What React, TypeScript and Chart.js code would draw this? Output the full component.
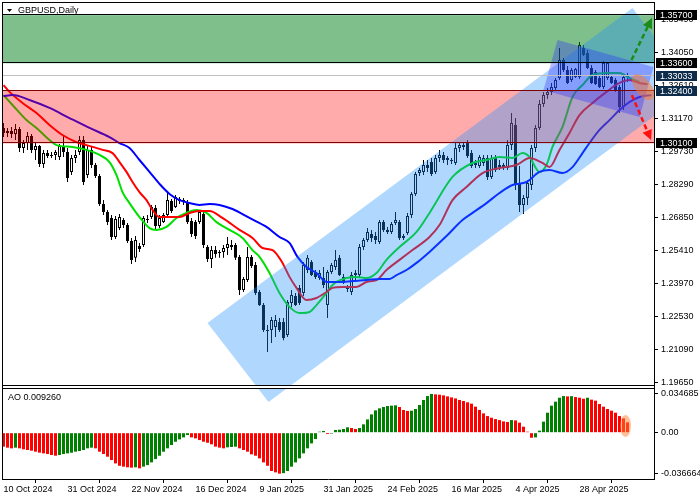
import React, { useEffect, useRef } from "react";
import { Chart, registerables } from "chart.js";

Chart.register(...registerables);

// ---------- data ----------
const dateLabels = ["10 Oct 2024", "31 Oct 2024", "22 Nov 2024", "16 Dec 2024", "9 Jan 2025", "31 Jan 2025", "24 Feb 2025", "16 Mar 2025", "4 Apr 2025", "28 Apr 2025"];
const dateTickIdx = [0, 16, 32, 48, 64, 80, 96, 112, 128, 144];
const priceTicks = [1.1965, 1.2109, 1.2253, 1.2397, 1.2541, 1.2685, 1.2829, 1.2973, 1.3117, 1.3261, 1.3405, 1.3549];
const aoTicks = [0.034685, 0, -0.036664];
const aoTickLabels = ["0.034685", "0.00", "-0.036664"];

const opens = [
  1.3078, 1.3056, 1.3064, 1.3051, 1.3073, 1.2990, 1.3012, 1.3043, 1.2982, 1.2999,
  1.2920, 1.2968, 1.2955, 1.2960, 1.2951, 1.2999, 1.2973, 1.2886, 1.2947, 1.2973,
  1.3025, 1.2872, 1.2982, 1.2916, 1.2868, 1.2746, 1.2711, 1.2685, 1.2602, 1.2641,
  1.2676, 1.2654, 1.2585, 1.2511, 1.2563, 1.2567, 1.2681, 1.2689, 1.2729, 1.2650,
  1.2667, 1.2698, 1.2759, 1.2733, 1.2768, 1.2759, 1.2750, 1.2672, 1.2667, 1.2667,
  1.2702, 1.2558, 1.2506, 1.2545, 1.2532, 1.2537, 1.2554, 1.2567, 1.2567, 1.2515,
  1.2371, 1.2414, 1.2515, 1.2480, 1.2362, 1.2305, 1.2196, 1.2196, 1.2209, 1.2231,
  1.2231, 1.2174, 1.2314, 1.2345, 1.2380, 1.2358, 1.2458, 1.2493, 1.2449, 1.2423,
  1.2423, 1.2305, 1.2449, 1.2471, 1.2511, 1.2428, 1.2380, 1.2362, 1.2436, 1.2436,
  1.2558, 1.2589, 1.2615, 1.2606, 1.2580, 1.2667, 1.2633, 1.2624, 1.2663, 1.2667,
  1.2606, 1.2619, 1.2698, 1.2790, 1.2881, 1.2886, 1.2916, 1.2929, 1.2886, 1.2947,
  1.2960, 1.2938, 1.2938, 1.2925, 1.2990, 1.2995, 1.3012, 1.2968, 1.2925, 1.2912,
  1.2925, 1.2947, 1.2864, 1.2947, 1.2916, 1.2916, 1.2903, 1.3003, 1.3091, 1.2838,
  1.2742, 1.2772, 1.2829, 1.2990, 1.3078, 1.3182, 1.3221, 1.3235, 1.3252, 1.3296,
  1.3374, 1.3331, 1.3287, 1.3300, 1.3300, 1.3427, 1.3405, 1.3339, 1.3322, 1.3296,
  1.3256, 1.3296, 1.3300, 1.3287, 1.3256, 1.3169, 1.3300,
];
const highs = [
  1.3099, 1.3078, 1.3082, 1.3095, 1.3082, 1.3025, 1.3060, 1.3051, 1.3012, 1.3003,
  1.2982, 1.2982, 1.2973, 1.2982, 1.3008, 1.3047, 1.2990, 1.2960, 1.2982, 1.3043,
  1.3043, 1.3003, 1.2999, 1.2925, 1.2877, 1.2763, 1.2720, 1.2698, 1.2694, 1.2702,
  1.2685, 1.2663, 1.2598, 1.2606, 1.2576, 1.2694, 1.2698, 1.2742, 1.2742, 1.2698,
  1.2707, 1.2798, 1.2768, 1.2785, 1.2777, 1.2772, 1.2763, 1.2685, 1.2676, 1.2720,
  1.2711, 1.2567, 1.2563, 1.2563, 1.2545, 1.2567, 1.2602, 1.2589, 1.2576, 1.2524,
  1.2428, 1.2558, 1.2524, 1.2493, 1.2371, 1.2314, 1.2218, 1.2253, 1.2262, 1.2249,
  1.2249, 1.2327, 1.2371, 1.2358, 1.2393, 1.2493, 1.2524, 1.2502, 1.2458, 1.2458,
  1.2471, 1.2458, 1.2489, 1.2545, 1.2524, 1.2441, 1.2393, 1.2449, 1.2458, 1.2571,
  1.2598, 1.2641, 1.2633, 1.2624, 1.2676, 1.2676, 1.2646, 1.2667, 1.2711, 1.2676,
  1.2615, 1.2707, 1.2798, 1.2886, 1.2903, 1.2938, 1.2938, 1.2947, 1.2960, 1.2982,
  1.2973, 1.2955, 1.2947, 1.3012, 1.3012, 1.3012, 1.3025, 1.2982, 1.2938, 1.2960,
  1.2960, 1.2960, 1.2960, 1.2960, 1.2938, 1.2925, 1.3025, 1.3143, 1.3121, 1.2912,
  1.2785, 1.2851, 1.3003, 1.3091, 1.3200, 1.3235, 1.3252, 1.3274, 1.3296, 1.3427,
  1.3383, 1.3348, 1.3339, 1.3339, 1.3453, 1.3440, 1.3418, 1.3352, 1.3331, 1.3304,
  1.3370, 1.3366, 1.3309, 1.3296, 1.3265, 1.3313, 1.3317,
];
const lows = [
  1.3038, 1.3038, 1.3034, 1.3025, 1.2973, 1.2968, 1.2982, 1.2968, 1.2938, 1.2907,
  1.2903, 1.2947, 1.2947, 1.2938, 1.2938, 1.2951, 1.2842, 1.2872, 1.2925, 1.2960,
  1.2829, 1.2859, 1.2903, 1.2859, 1.2737, 1.2698, 1.2654, 1.2589, 1.2593, 1.2633,
  1.2641, 1.2576, 1.2484, 1.2493, 1.2537, 1.2558, 1.2663, 1.2681, 1.2637, 1.2641,
  1.2663, 1.2694, 1.2707, 1.2729, 1.2746, 1.2742, 1.2659, 1.2602, 1.2593, 1.2659,
  1.2554, 1.2493, 1.2467, 1.2511, 1.2511, 1.2511, 1.2524, 1.2545, 1.2502, 1.2349,
  1.2362, 1.2406, 1.2467, 1.2349, 1.2301, 1.2187, 1.2100, 1.2139, 1.2166, 1.2187,
  1.2152, 1.2166, 1.2297, 1.2301, 1.2305, 1.2345, 1.2445, 1.2432, 1.2419, 1.2414,
  1.2380, 1.2249, 1.2441, 1.2458, 1.2432, 1.2397, 1.2362, 1.2349, 1.2414, 1.2428,
  1.2545, 1.2580, 1.2580, 1.2571, 1.2571, 1.2624, 1.2615, 1.2615, 1.2654, 1.2589,
  1.2589, 1.2611, 1.2685, 1.2781, 1.2868, 1.2872, 1.2886, 1.2868, 1.2877, 1.2929,
  1.2925, 1.2916, 1.2920, 1.2916, 1.2973, 1.2982, 1.2947, 1.2903, 1.2903, 1.2903,
  1.2912, 1.2851, 1.2855, 1.2886, 1.2894, 1.2894, 1.2894, 1.2982, 1.2807, 1.2711,
  1.2702, 1.2742, 1.2807, 1.2973, 1.3069, 1.3169, 1.3204, 1.3221, 1.3243, 1.3287,
  1.3322, 1.3269, 1.3278, 1.3296, 1.3291, 1.3392, 1.3335, 1.3269, 1.3265, 1.3252,
  1.3248, 1.3287, 1.3269, 1.3235, 1.3143, 1.3156, 1.3278,
];
const closes = [
  1.3056, 1.3064, 1.3051, 1.3073, 1.2990, 1.3012, 1.3043, 1.2982, 1.2999, 1.2920,
  1.2968, 1.2955, 1.2960, 1.2973, 1.2999, 1.2973, 1.2859, 1.2947, 1.2960, 1.3025,
  1.2842, 1.2982, 1.2916, 1.2868, 1.2746, 1.2711, 1.2667, 1.2602, 1.2681, 1.2689,
  1.2654, 1.2585, 1.2502, 1.2589, 1.2550, 1.2685, 1.2676, 1.2733, 1.2650, 1.2685,
  1.2698, 1.2763, 1.2715, 1.2777, 1.2759, 1.2763, 1.2667, 1.2615, 1.2606, 1.2711,
  1.2567, 1.2506, 1.2545, 1.2528, 1.2537, 1.2554, 1.2571, 1.2558, 1.2511, 1.2371,
  1.2419, 1.2515, 1.2475, 1.2358, 1.2305, 1.2196, 1.2192, 1.2240, 1.2240, 1.2196,
  1.2161, 1.2318, 1.2349, 1.2305, 1.2314, 1.2480, 1.2511, 1.2436, 1.2428, 1.2445,
  1.2393, 1.2449, 1.2480, 1.2502, 1.2436, 1.2401, 1.2375, 1.2436, 1.2445, 1.2558,
  1.2589, 1.2624, 1.2598, 1.2589, 1.2667, 1.2633, 1.2624, 1.2659, 1.2676, 1.2598,
  1.2598, 1.2694, 1.2790, 1.2877, 1.2894, 1.2916, 1.2903, 1.2877, 1.2947, 1.2960,
  1.2938, 1.2947, 1.2934, 1.2990, 1.3003, 1.3003, 1.2955, 1.2912, 1.2916, 1.2951,
  1.2947, 1.2864, 1.2947, 1.2894, 1.2907, 1.2903, 1.3003, 1.3099, 1.2829, 1.2742,
  1.2772, 1.2838, 1.2990, 1.3078, 1.3182, 1.3221, 1.3235, 1.3256, 1.3287, 1.3374,
  1.3331, 1.3274, 1.3331, 1.3335, 1.3440, 1.3396, 1.3339, 1.3274, 1.3269, 1.3256,
  1.3361, 1.3361, 1.3274, 1.3239, 1.3169, 1.3300, 1.33033,
];

// Alligator lines (bar index, price)
const jawIdx = [0, 2.25, 6.5, 11.5, 16.5, 21.5, 26.5, 29, 31.5, 34, 36.5, 39, 41.5, 44, 46.5, 49, 51.5, 54, 57.25, 61.5, 65.75, 69, 71.5, 73.5, 75.75, 78.25, 80.75, 84, 87.25, 90.75, 94, 96.5, 98.25, 100.75, 103.25, 106.5, 110.75, 114.75, 117.25, 120.75, 124, 127.25, 130.75, 134, 136.5, 139.75, 142.25, 144.75, 146.5, 149, 151.5, 154, 156.5, 159, 162];
const jawVal = [1.3217, 1.3221, 1.3200, 1.3165, 1.3121, 1.3078, 1.3038, 1.3012, 1.2990, 1.2938, 1.2886, 1.2834, 1.2790, 1.2763, 1.2750, 1.2742, 1.2746, 1.2742, 1.2724, 1.2685, 1.2646, 1.2602, 1.2576, 1.2515, 1.2471, 1.2445, 1.2406, 1.2406, 1.2410, 1.2414, 1.2419, 1.2419, 1.2436, 1.2458, 1.2489, 1.2537, 1.2606, 1.2676, 1.2707, 1.2750, 1.2794, 1.2829, 1.2842, 1.2886, 1.2894, 1.2881, 1.2907, 1.2968, 1.3012, 1.3069, 1.3112, 1.3156, 1.3191, 1.3213, 1.3221];
const teethIdx = [0, 1.5, 4.75, 8.25, 11.5, 14.75, 18.25, 20.75, 24.75, 27.25, 29, 30.75, 32.25, 34, 35.75, 37.25, 39, 40.75, 44, 46.5, 49, 51.5, 54.75, 59, 62.25, 64.75, 67.25, 69.75, 71.5, 73.25, 75.75, 78.25, 80.75, 82.25, 84.75, 88.25, 90.75, 93.25, 95.75, 99, 102.25, 106.5, 109, 112.25, 115.75, 119.75, 124, 128.25, 131.5, 134.75, 136.5, 139, 141.5, 144, 147.25, 150.75, 154, 156.5, 159, 161];
const teethVal = [1.3265, 1.3235, 1.3187, 1.3143, 1.3091, 1.3047, 1.3016, 1.3003, 1.2982, 1.2968, 1.2929, 1.2886, 1.2842, 1.2798, 1.2763, 1.2720, 1.2689, 1.2689, 1.2689, 1.2707, 1.2715, 1.2715, 1.2685, 1.2633, 1.2598, 1.2554, 1.2545, 1.2489, 1.2428, 1.2380, 1.2327, 1.2336, 1.2362, 1.2380, 1.2384, 1.2384, 1.2406, 1.2414, 1.2458, 1.2502, 1.2545, 1.2602, 1.2654, 1.2763, 1.2820, 1.2881, 1.2903, 1.2916, 1.2947, 1.2925, 1.2907, 1.2982, 1.3056, 1.3134, 1.3187, 1.3235, 1.3274, 1.3287, 1.3274, 1.3269];
const lipsIdx = [0, 2.25, 5.75, 8.25, 11.5, 13.25, 17.25, 20.75, 24, 26.5, 28.25, 29.75, 31.5, 34, 36.5, 38.25, 40.75, 43.25, 45.75, 48.25, 50.75, 53.25, 56.5, 59.75, 62.25, 64, 66.5, 69, 71.5, 74, 76.5, 78.25, 80.75, 82.25, 85.75, 88.25, 90.75, 93.25, 95.75, 99, 103.25, 106.5, 112.25, 117.25, 120.75, 124, 127.25, 129.75, 131.5, 134, 135.75, 137.25, 139.75, 142.25, 144.75, 147.25, 150.75, 154, 156.5, 159];
const lipsVal = [1.3221, 1.3178, 1.3112, 1.3078, 1.3025, 1.3003, 1.2995, 1.2982, 1.2960, 1.2929, 1.2872, 1.2798, 1.2750, 1.2689, 1.2641, 1.2633, 1.2646, 1.2685, 1.2707, 1.2720, 1.2707, 1.2667, 1.2633, 1.2598, 1.2545, 1.2515, 1.2445, 1.2358, 1.2297, 1.2270, 1.2275, 1.2305, 1.2358, 1.2393, 1.2423, 1.2428, 1.2423, 1.2445, 1.2502, 1.2558, 1.2624, 1.2707, 1.2864, 1.2925, 1.2938, 1.2951, 1.2947, 1.2968, 1.2951, 1.2886, 1.2916, 1.2995, 1.3082, 1.3213, 1.3265, 1.3309, 1.3317, 1.3317, 1.3296, 1.3278];

// Awesome Oscillator
const aoValues = [
  -0.0125, -0.0134, -0.0140, -0.0134, -0.0140, -0.0149, -0.0155, -0.0161, -0.0170, -0.0179,
  -0.0185, -0.0191, -0.0200, -0.0206, -0.0200, -0.0191, -0.0185, -0.0179, -0.0170, -0.0164,
  -0.0155, -0.0140, -0.0134, -0.0140, -0.0170, -0.0191, -0.0215, -0.0245, -0.0275, -0.0296,
  -0.0304, -0.0310, -0.0313, -0.0310, -0.0319, -0.0304, -0.0290, -0.0266, -0.0236, -0.0206,
  -0.0170, -0.0140, -0.0110, -0.0081, -0.0060, -0.0042, -0.0021, -0.0042, -0.0051, -0.0066,
  -0.0081, -0.0090, -0.0104, -0.0125, -0.0134, -0.0140, -0.0131, -0.0128, -0.0125, -0.0140,
  -0.0155, -0.0170, -0.0194, -0.0206, -0.0230, -0.0266, -0.0296, -0.0343, -0.0355, -0.036664,
  -0.0362, -0.0343, -0.0304, -0.0266, -0.0230, -0.0185, -0.0140, -0.0096, -0.0057, 0.0009,
  0.0015, -0.0012, -0.0009, 0.0024, 0.0027, 0.0033, 0.0048, 0.0042, 0.0033, 0.0042,
  0.0075, 0.0119, 0.0164, 0.0200, 0.0218, 0.0230, 0.0239, 0.0242, 0.0245, 0.0230,
  0.0203, 0.0194, 0.0197, 0.0212, 0.0248, 0.0293, 0.0328, 0.034685, 0.0343, 0.0340,
  0.0334, 0.0325, 0.0316, 0.0307, 0.0293, 0.0284, 0.0272, 0.0260, 0.0233, 0.0203,
  0.0173, 0.0149, 0.0134, 0.0122, 0.0113, 0.0101, 0.0096, 0.0113, 0.0110, 0.0090,
  0.0054, 0.0009, -0.0045, -0.0042, 0.0018, 0.0099, 0.0179, 0.0242, 0.0278, 0.0313,
  0.0328, 0.0325, 0.0327, 0.0319, 0.0313, 0.0304, 0.0313, 0.0296, 0.0287, 0.0257,
  0.0233, 0.0212, 0.0197, 0.0179, 0.0149, 0.0128, 0.00926,
];

// Drawing objects (in bar index / price coordinates)
const greenZone = [1.336, 1.357];
const redZone = [1.301, 1.324];
const bidPrice = 1.33033;
const priceBoxValues = [1.357, 1.336, 1.33033, 1.324, 1.301];
const channelIdx = [51, 157.25, 172.5, 66.25];
const channelPrice = [1.2227, 1.3601, 1.3256, 1.1882];
const rangeBoxIdx = [138.5, 162.5, 159, 135];
const rangeBoxPrice = [1.3461, 1.3344, 1.3126, 1.3243];
const upArrowIdx = [157, 162.1];
const upArrowPrice = [1.3374, 1.3557];
const downArrowIdx = [157.1, 161.9];
const downArrowPrice = [1.3221, 1.3025];
const focusIdx = 159.9;
const focusPrice = 1.3256;
const aoFocusIdx = 155.5;
const aoFocusValue = 0.006;

// ---------- style ----------
const FONT = "'Liberation Sans', Arial, sans-serif";
const BOX_FILL = ["#000000", "#000000", "#0d2b4a", "#0d2b4a", "#000000"];

function drawArrow(ctx: CanvasRenderingContext2D, x1: number, y1: number, x2: number, y2: number, color: string) {
  const ang = Math.atan2(y2 - y1, x2 - x1);
  const head = 10;
  const hx = x2 - Math.cos(ang) * head;
  const hy = y2 - Math.sin(ang) * head;
  ctx.strokeStyle = color;
  ctx.lineWidth = 2.5;
  ctx.setLineDash([5, 3]);
  ctx.beginPath();
  ctx.moveTo(x1, y1);
  ctx.lineTo(hx, hy);
  ctx.stroke();
  ctx.setLineDash([]);
  ctx.fillStyle = color;
  ctx.beginPath();
  ctx.moveTo(x2, y2);
  ctx.lineTo(hx + Math.sin(ang) * 5, hy - Math.cos(ang) * 5);
  ctx.lineTo(hx - Math.sin(ang) * 5, hy + Math.cos(ang) * 5);
  ctx.closePath();
  ctx.fill();
}

const noPad = (s: any) => {
  s.paddingTop = 0;
  s.paddingBottom = 0;
  s.paddingLeft = 0;
  s.paddingRight = 0;
};

const overlayPlugin = {
  id: "overlayPlugin",
  afterDatasetsDraw(chart: any) {
    const { ctx, chartArea } = chart;
    const xs = chart.scales.x;
    const ys = chart.scales.y;
    const ya = chart.scales.yAO;
    const L = chartArea.left;
    const R = chartArea.right;
    const T = chartArea.top;
    const B = chartArea.bottom;
    const mainB = ys.bottom;
    const X = (v: number) => xs.getPixelForValue(v);
    const Y = (v: number) => ys.getPixelForValue(v);
    const A = (v: number) => ya.getPixelForValue(v);
    const clipMain = () => {
      ctx.beginPath();
      ctx.rect(L, T, R - L, mainB - T);
      ctx.clip();
    };
    const poly = (idx: number[], pr: number[], color: string) => {
      ctx.fillStyle = color;
      ctx.beginPath();
      idx.forEach((v, k) => (k === 0 ? ctx.moveTo(X(v), Y(pr[k])) : ctx.lineTo(X(v), Y(pr[k]))));
      ctx.closePath();
      ctx.fill();
    };
    const hline = (p: number, color: string) => {
      const y = Math.round(Y(p)) - 0.5;
      ctx.strokeStyle = color;
      ctx.lineWidth = 1;
      ctx.beginPath();
      ctx.moveTo(L, y);
      ctx.lineTo(R, y);
      ctx.stroke();
    };

    // zones
    ctx.save();
    clipMain();
    ctx.fillStyle = "rgba(0,128,24,0.5)";
    ctx.fillRect(L, Y(greenZone[1]), R - L, Y(greenZone[0]) - Y(greenZone[1]));
    ctx.fillStyle = "rgba(255,0,0,0.33)";
    ctx.fillRect(L, Y(redZone[1]), R - L, Y(redZone[0]) - Y(redZone[1]));
    ctx.restore();

    // channel (reaches into the AO pane)
    ctx.save();
    ctx.beginPath();
    ctx.rect(L, T, R - L, B - T);
    ctx.clip();
    poly(channelIdx, channelPrice, "rgba(30,144,255,0.35)");
    ctx.restore();

    ctx.save();
    clipMain();
    poly(rangeBoxIdx, rangeBoxPrice, "rgba(40,40,255,0.33)");
    hline(greenZone[1], "#000000");
    hline(greenZone[0], "#000000");
    hline(redZone[1], "#800000");
    hline(redZone[0], "#800000");
    hline(bidPrice, "#c0c0c0");
    ctx.fillStyle = "rgba(255,120,40,0.5)";
    ctx.beginPath();
    ctx.ellipse(X(focusIdx), Y(focusPrice), 15, 8, 0.9, 0, Math.PI * 2);
    ctx.fill();
    drawArrow(ctx, X(upArrowIdx[0]), Y(upArrowPrice[0]), X(upArrowIdx[1]), Y(upArrowPrice[1]), "#1a8c1a");
    drawArrow(ctx, X(downArrowIdx[0]), Y(downArrowPrice[0]), X(downArrowIdx[1]), Y(downArrowPrice[1]), "#ff1010");
    ctx.restore();

    // AO highlight
    ctx.save();
    ctx.beginPath();
    ctx.rect(L, mainB, R - L, B - mainB);
    ctx.clip();
    ctx.fillStyle = "rgba(255,130,50,0.5)";
    ctx.beginPath();
    ctx.ellipse(X(aoFocusIdx), A(aoFocusValue), 5.5, 11, 0, 0, Math.PI * 2);
    ctx.fill();
    ctx.restore();

    // pane separator and frame
    ctx.save();
    ctx.fillStyle = "#ffffff";
    ctx.fillRect(L, mainB - 1, R - L, 4);
    ctx.strokeStyle = "#000000";
    ctx.lineWidth = 1;
    ctx.beginPath();
    ctx.moveTo(L, mainB - 0.5);
    ctx.lineTo(R, mainB - 0.5);
    ctx.moveTo(L, mainB + 2.5);
    ctx.lineTo(R, mainB + 2.5);
    ctx.moveTo(L + 0.5, T);
    ctx.lineTo(L + 0.5, B);
    ctx.moveTo(L, T + 0.5);
    ctx.lineTo(R, T + 0.5);
    ctx.stroke();
    ctx.restore();
  },
  afterDraw(chart: any) {
    const { ctx } = chart;
    const ys = chart.scales.y;
    ctx.save();
    ctx.font = `9px ${FONT}`;
    ctx.textBaseline = "middle";
    ctx.textAlign = "left";
    priceBoxValues.forEach((p, k) => {
      const y = Math.round(ys.getPixelForValue(p));
      ctx.fillStyle = BOX_FILL[k];
      ctx.fillRect(656, y - 5, 41, 10);
      ctx.fillStyle = "#ffffff";
      ctx.fillText(p.toFixed(5), 660, y + 0.5);
    });
    // titles
    ctx.fillStyle = "#000000";
    ctx.beginPath();
    ctx.moveTo(7, 9);
    ctx.lineTo(12, 9);
    ctx.lineTo(9.5, 12);
    ctx.closePath();
    ctx.fill();
    ctx.fillText("GBPUSD,Daily", 18, 10.5);
    ctx.fillText("AO " + aoValues[aoValues.length - 1].toFixed(6), 8, 398);
    ctx.restore();
  },
};

export default function App() {
  const ref = useRef<HTMLCanvasElement>(null);
  useEffect(() => {
    const canvas = ref.current;
    if (!canvas) return;
    const aoColors = aoValues.map((v, i) => (i > 0 && v > aoValues[i - 1] ? "#008000" : "#ff0000"));
    const bodyColors = opens.map((o, i) => (closes[i] >= o ? "#ffffff" : "#000000"));
    const tickFont = { family: FONT, size: 9 };
    const chart = new Chart(canvas, {
      type: "bar",
      data: {
        datasets: [
          {
            type: "line",
            label: "Jaw",
            data: jawIdx.map((x, k) => ({ x, y: jawVal[k] })),
            borderColor: "#0000ff",
            borderWidth: 2,
            pointRadius: 0,
            cubicInterpolationMode: "monotone",
            yAxisID: "y",
            order: -3,
          } as any,
          {
            type: "line",
            label: "Teeth",
            data: teethIdx.map((x, k) => ({ x, y: teethVal[k] })),
            borderColor: "#ff0000",
            borderWidth: 2,
            pointRadius: 0,
            cubicInterpolationMode: "monotone",
            yAxisID: "y",
            order: -2,
          } as any,
          {
            type: "line",
            label: "Lips",
            data: lipsIdx.map((x, k) => ({ x, y: lipsVal[k] })),
            borderColor: "#00e000",
            borderWidth: 2,
            pointRadius: 0,
            cubicInterpolationMode: "monotone",
            yAxisID: "y",
            order: -1,
          } as any,
          {
            type: "bar",
            label: "Body",
            data: opens.map((o, i) => ({ x: i, y: [o, closes[i]] })),
            backgroundColor: bodyColors,
            borderColor: "#000000",
            borderWidth: 1,
            borderSkipped: false,
            barThickness: 3,
            minBarLength: 1,
            grouped: false,
            inflateAmount: 0,
            yAxisID: "y",
            order: 0,
          } as any,
          {
            type: "bar",
            label: "Wick",
            data: lows.map((l, i) => ({ x: i, y: [l, highs[i]] })),
            backgroundColor: "#000000",
            barThickness: 1,
            grouped: false,
            inflateAmount: 0,
            yAxisID: "y",
            order: 1,
          } as any,
          {
            type: "bar",
            label: "AO",
            data: aoValues.map((v, i) => ({ x: i, y: v })),
            backgroundColor: aoColors,
            barThickness: 3,
            grouped: false,
            inflateAmount: 0,
            yAxisID: "yAO",
            order: 2,
          } as any,
        ],
      },
      options: {
        animation: false,
        responsive: false,
        devicePixelRatio: 1,
        events: [],
        layout: { padding: { left: 2, top: 2, right: 0, bottom: 0 } },
        plugins: { legend: { display: false }, tooltip: { enabled: false } },
        scales: {
          x: {
            type: "linear",
            min: -0.375,
            max: 162.625,
            offset: false,
            grid: { display: true, drawOnChartArea: false, drawTicks: true, tickLength: 4, color: "#000000" },
            border: { display: true, color: "#000000" },
            ticks: {
              autoSkip: false,
              maxRotation: 0,
              align: "start",
              padding: 1,
              color: "#000000",
              font: tickFont,
              callback: (v: any) => {
                const k = dateTickIdx.indexOf(Number(v));
                return k >= 0 ? dateLabels[k] : "";
              },
            },
            afterBuildTicks: (s: any) => {
              s.ticks = dateTickIdx.map((v) => ({ value: v }));
            },
            afterFit: (s: any) => {
              s.height = 21;
              noPad(s);
            },
          },
          y: {
            type: "linear",
            position: "right",
            stack: "pane",
            stackWeight: 384,
            min: 1.19519,
            max: 1.36273,
            offset: false,
            grid: { display: true, drawOnChartArea: false, drawTicks: true, tickLength: 4, color: "#000000" },
            border: { display: true, color: "#000000" },
            ticks: {
              autoSkip: false,
              padding: 3,
              color: "#000000",
              font: tickFont,
              callback: (v: any) => Number(v).toFixed(5),
            },
            afterBuildTicks: (s: any) => {
              s.ticks = priceTicks.map((v) => ({ value: v }));
            },
            afterFit: (s: any) => {
              s.width = 46;
              noPad(s);
            },
          },
          yAO: {
            type: "linear",
            position: "right",
            stack: "pane",
            stackWeight: 93,
            min: -0.04145,
            max: 0.0418,
            offset: false,
            grid: { display: true, drawOnChartArea: false, drawTicks: true, tickLength: 4, color: "#000000" },
            border: { display: true, color: "#000000" },
            ticks: {
              autoSkip: false,
              padding: 3,
              color: "#000000",
              font: tickFont,
              callback: (v: any) => {
                const k = aoTicks.findIndex((t) => Math.abs(t - Number(v)) < 1e-9);
                return k >= 0 ? aoTickLabels[k] : "";
              },
            },
            afterBuildTicks: (s: any) => {
              s.ticks = aoTicks.map((v) => ({ value: v }));
            },
            afterFit: (s: any) => {
              s.width = 46;
              noPad(s);
            },
          },
        },
      } as any,
      plugins: [overlayPlugin],
    });
    return () => chart.destroy();
  }, []);
  return (
    <div style={{ position: "absolute", left: 0, top: 0, width: 700, height: 500, background: "#ffffff" }}>
      <canvas ref={ref} width={700} height={500} style={{ display: "block", width: 700, height: 500 }} />
    </div>
  );
}
